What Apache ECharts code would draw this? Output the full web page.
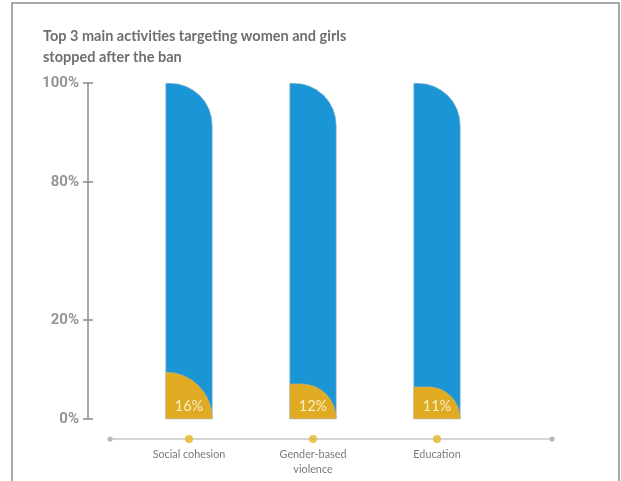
<!DOCTYPE html>
<html>
<head>
<meta charset="utf-8">
<script src="https://cdn.jsdelivr.net/npm/echarts@6/dist/echarts.min.js"></script>
<style>html,body{margin:0;padding:0;background:#fff;}#c{width:621px;height:481px;}</style>
</head>
<body>
<div id="c"></div>
<script>
const categories = ['Social cohesion', 'Gender-based\nviolence', 'Education'];
const totalValues = [100, 100, 100];
const stoppedValues = [16, 12, 11];
const yTickValues = [0, 20, 80, 100];

const chart = echarts.init(document.getElementById('c'), null, {renderer: 'canvas'});
const BLUE = '#1a96d6', GOLD = '#e0aa22';
chart.setOption({
  animation: false,
  backgroundColor: '#fff',
  title: {
    text: 'Top 3 main activities targeting women and girls\nstopped after the ban',
    left: 38, top: 21,
    textStyle: {fontFamily: 'Lato', fontWeight: 'bold', fontSize: 14.5, color: '#6d6e70', lineHeight: 21}
  },
  graphic: [
    {type: 'polyline', shape: {points: [[12, 481], [12, 3], [619, 3], [619, 481]]}, style: {stroke: '#8c8c8c', lineWidth: 1.5, fill: null}, silent: true},
    {type: 'line', shape: {x1: 110, y1: 439, x2: 552, y2: 439}, style: {stroke: '#d4d4d4', lineWidth: 2}, silent: true, z: 1},
    {type: 'circle', shape: {cx: 110, cy: 439, r: 2.6}, style: {fill: '#b8b8b8'}, silent: true, z: 2},
    {type: 'circle', shape: {cx: 552, cy: 439, r: 2.6}, style: {fill: '#b8b8b8'}, silent: true, z: 2}
  ],
  grid: [
    {left: 127, width: 372, top: 83, height: 336},
    {left: 127, width: 372, top: 432, height: 14}
  ],
  xAxis: [
    {type: 'category', data: categories, gridIndex: 0, show: false},
    {type: 'category', data: categories, gridIndex: 1,
     axisLine: {show: false}, axisTick: {show: false},
     axisLabel: {margin: 1, fontFamily: 'Lato', fontSize: 10.8, color: '#7a7a7a', lineHeight: 15}}
  ],
  yAxis: [
    {type: 'value', gridIndex: 0, position: 'left', min: 0, max: 100, interval: 20, offset: 39,
     breaks: [{start: 20, end: 80, gap: 28}],
     breakArea: {show: false},
     splitLine: {show: false},
     axisLine: {show: false},
     axisTick: {show: true, length: 5, lineStyle: {color: '#8a8a8a', width: 1.5}},
     axisLabel: {formatter: v => yTickValues.includes(v) ? v + '%' : '', margin: 9, fontFamily: 'Roboto', fontWeight: 'bold', fontSize: 15, color: '#959595'}},
    {type: 'value', gridIndex: 0, position: 'left', min: 0, max: 100, interval: 20, offset: 39,
     breaks: [{start: 20, end: 80, gap: 28}],
     breakArea: {show: false},
     splitLine: {show: false},
     axisLine: {show: false},
     axisTick: {show: true, inside: true, length: 5, lineStyle: {color: '#8a8a8a', width: 1.5}},
     axisLabel: {show: false}},
    {type: 'value', gridIndex: 0, position: 'left', offset: 39, min: 0, max: 114,
     splitLine: {show: false}, axisTick: {show: false}, axisLabel: {show: false},
     axisLine: {show: true, lineStyle: {color: '#8a8a8a', width: 1.5}}},
    {type: 'value', gridIndex: 1, min: 0, max: 1, show: false, splitLine: {show: false}}
  ],
  series: [
    {type: 'bar', name: 'All', xAxisIndex: 0, yAxisIndex: 0, data: totalValues, barWidth: 47,
     itemStyle: {color: BLUE, borderRadius: [0, 42, 0, 0], borderColor: '#9db5c4', borderWidth: 0.6}, z: 2},
    {type: 'bar', name: 'Stopped', xAxisIndex: 0, yAxisIndex: 2, data: stoppedValues, barWidth: 47, barGap: '-100%',
     itemStyle: {color: GOLD, borderRadius: [0, 47, 0, 0], borderColor: '#c9b27a', borderWidth: 0.6}, z: 3,
     label: {show: true, position: 'insideBottom', distance: 5, formatter: p => p.value + '%', fontFamily: 'Lato', fontSize: 14.5, color: '#f7efc9'}},
    {type: 'scatter', xAxisIndex: 1, yAxisIndex: 3, data: categories.map(() => 0.5), symbolSize: 8,
     itemStyle: {color: '#e2b823'}, z: 5}
  ]
});
</script>
</body>
</html>
